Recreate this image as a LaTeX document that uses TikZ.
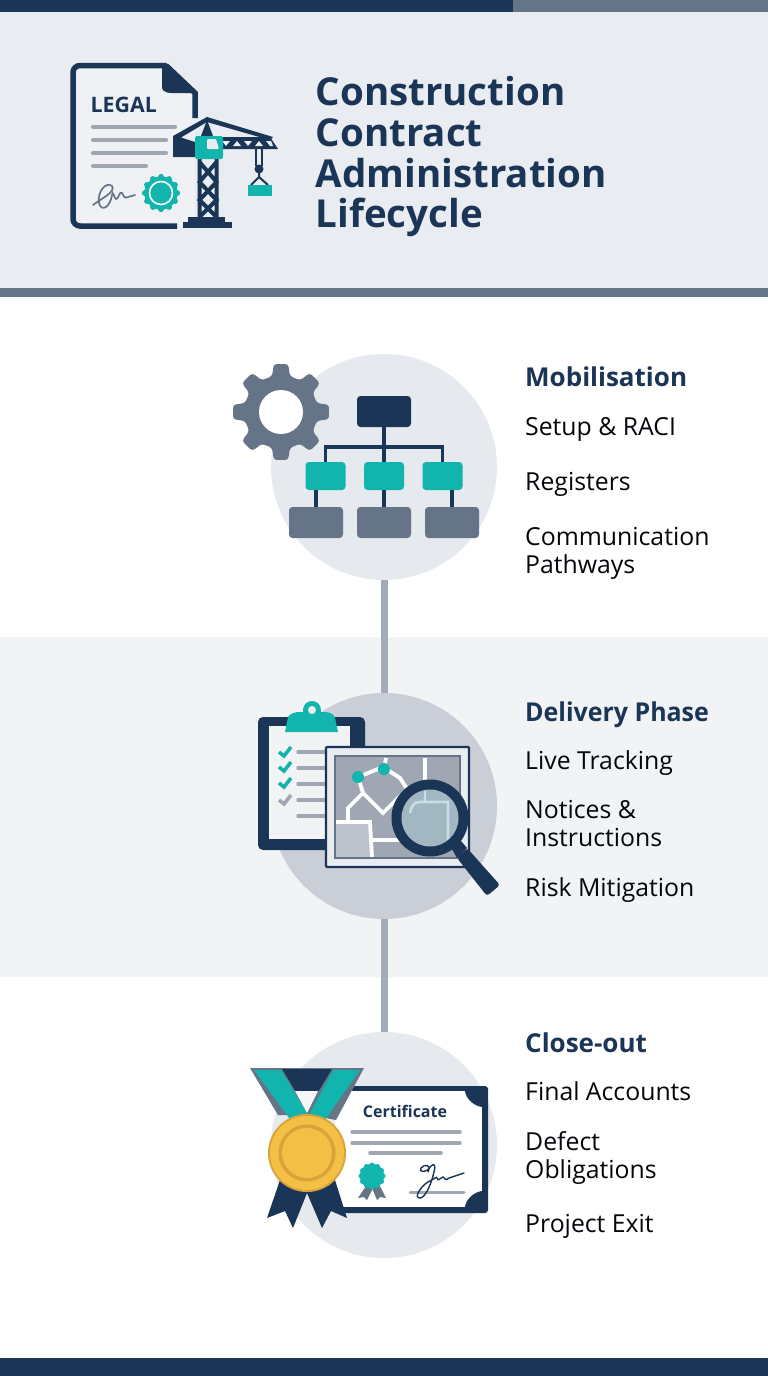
\documentclass[tikz,border=0pt]{standalone}
\usepackage{fontspec}
\setmainfont{Open Sans}
\definecolor{navy}{HTML}{1B3557}
\definecolor{slate}{HTML}{667488}
\definecolor{teal1}{HTML}{12B5AE}
\definecolor{hdr}{HTML}{E9ECF0}
\definecolor{band}{HTML}{F1F3F5}
\definecolor{conn}{HTML}{A3ABB8}
\definecolor{lgrey}{HTML}{A0A7B3}
\definecolor{gold}{HTML}{F3BF45}
\definecolor{goldd}{HTML}{D9A33A}
\definecolor{discl}{HTML}{E6E9ED}
\definecolor{discd}{HTML}{C9CED7}
\definecolor{lens}{HTML}{A3B7C2}
\definecolor{lensl}{HTML}{C8DDE6}
\definecolor{docf}{HTML}{EFF1F4}
\newcommand{\gearp}[7]{% cx cy rout rin n round colour
  \fill[#7,rounded corners=#6pt] \foreach \gi in {1,...,#5}{
    \ifnum\gi=1 ({#1+#3*cos(\gi*360/#5-360/#5*0.19)},{#2+#3*sin(\gi*360/#5-360/#5*0.19)})\else -- ({#1+#3*cos(\gi*360/#5-360/#5*0.19)},{#2+#3*sin(\gi*360/#5-360/#5*0.19)})\fi
    -- ({#1+#3*cos(\gi*360/#5+360/#5*0.19)},{#2+#3*sin(\gi*360/#5+360/#5*0.19)})
    -- ({#1+#4*cos(\gi*360/#5+360/#5*0.31)},{#2+#4*sin(\gi*360/#5+360/#5*0.31)})
    -- ({#1+#4*cos(\gi*360/#5+360/#5*0.69)},{#2+#4*sin(\gi*360/#5+360/#5*0.69)})
  } -- cycle;}
\tikzset{
  title/.style={anchor=base west,inner sep=0pt,font=\fontsize{38.5}{40}\selectfont\bfseries,text=navy},
  head/.style={anchor=base west,inner sep=0pt,font=\fontsize{26}{27}\selectfont\bfseries,text=navy},
  item/.style={anchor=base west,inner sep=0pt,font=\fontsize{24.8}{25}\selectfont,text=black!88!navy},
  disc/.style={circle,minimum size=226pt,inner sep=0pt,fill=#1},
  link/.style={draw=conn,line width=7pt},
  tbox/.style={rectangle,rounded corners=3.5pt,inner sep=0pt,fill=teal1,minimum width=40pt,minimum height=28pt},
  gbox/.style={rectangle,rounded corners=3.5pt,inner sep=0pt,fill=slate,minimum width=54pt,minimum height=31pt},
  nbox/.style={rectangle,rounded corners=3.5pt,inner sep=0pt,fill=navy,minimum width=54pt,minimum height=31pt},
  org/.style={draw=navy,line width=3.2pt},
  gline/.style={draw=lgrey,line width=4.3pt,line cap=round},
  road/.style={draw=white,line width=3.8pt},
}
\begin{document}
\begin{tikzpicture}[x=1pt,y=-1pt]
\useasboundingbox (0,0) rectangle (768,1376);
\fill[white] (0,0) rectangle (768,1376);
% bands
\fill[hdr] (0,12) rectangle (768,288);
\fill[navy] (0,0) rectangle (513,12);
\fill[slate] (513,0) rectangle (768,12);
\fill[slate] (0,288) rectangle (768,297);
\fill[band] (0,637) rectangle (768,977);
\fill[navy] (0,1358) rectangle (768,1376);
% discs and connectors
\node[disc=discl] (c1) at (384,467) {};
\node[disc=discd] (c2) at (384,806) {};
\node[disc=discl] (c3) at (384,1145) {};
\draw[link] (c1.south) -- (c2.north);
\draw[link] (c2.south) -- (c3.north);
% ---------- header icon
\fill[docf] (73,65) -- (166,65) -- (195,93) -- (195,226) -- (73,226) -- cycle;
\draw[navy,line width=5.5pt,rounded corners=7pt] (177,226) -- (73,226) -- (73,65.5) -- (166,65.5);
\draw[navy,line width=5.5pt] (166,65.5) -- (195,93) -- (195,118);
\fill[navy] (166,63) -- (197,93) -- (172,93) .. controls (164,93) and (161,90) .. (162,84) -- (162,64) -- cycle;
\node[anchor=base west,inner sep=0pt,font=\fontsize{21.3}{22}\selectfont\bfseries,text=navy] (legal) at (90.5,112) {LEGAL};
\draw[gline] (93,127) -- (175,127);
\draw[gline] (93,140) -- (166,140);
\draw[gline] (93,153) -- (166,153);
\draw[gline] (93,166) -- (146,166);
\draw[slate,line width=1.7pt,line cap=round] (93,205) .. controls (102,198) and (116,192) .. (112,186) .. controls (106,181) and (97,192) .. (99,203) .. controls (101,212) and (110,208) .. (112,195) .. controls (113,190) and (114,198) .. (116,199) .. controls (119,199) and (119,191) .. (122,193) .. controls (124,196) and (124,199) .. (128,197) -- (135,195);
\gearp{161}{193}{19}{16.5}{12}{1}{teal1}
\draw[white,line width=1.6pt] (161,193) circle (11.5pt);
% crane
\fill[navy] (207,117) -- (173,136) -- (173,157) -- (195,157) -- (195,142) -- (181,137.5) -- (207,122) -- (270,140) -- (273,137) -- cycle;
\fill[navy] (217,137) -- (270,137) -- (278,149) -- (217,149) -- cycle;
\fill[hdr] (222,141) -- (230,141) -- (226,146) -- cycle (233,146) -- (237,141) -- (241,146) -- cycle (244,141) -- (252,141) -- (248,146) -- cycle (255,146) -- (259,141) -- (263,146) -- cycle (266,141) -- (271,141) -- (273,146) -- (270,146) -- cycle;
\draw[navy,line width=4pt] (199.5,159) -- (199.5,217) (216.5,159) -- (216.5,217) (199.5,162) -- (216.5,182) -- (199.5,200) -- (216.5,217) (216.5,162) -- (199.5,182) -- (216.5,200) -- (199.5,217);
\fill[navy] (201,136) -- (207,120) -- (213,136) -- cycle;
\fill[navy] (188,217) rectangle (225,222);
\fill[navy] (183,222) rectangle (232,228);
\fill[teal1,rounded corners=2pt] (195,136) rectangle (223,159);
\fill[hdr,rounded corners=1pt] (207,139) -- (216,139) -- (219,149) -- (207,149) -- cycle;
\draw[navy,line width=2pt] (256,149) -- (256,166) (262,149) -- (262,166);
\fill[navy] (259,169) circle (4.5pt);
\draw[navy,line width=2pt] (259,173) -- (259,177) (251,185) -- (259,177) -- (268,185);
\fill[teal1] (248,185) rectangle (272,196);
% ---------- section 1 icon
\gearp{281}{412}{48.5}{37}{8}{3}{slate}
\fill[white] (281,412) circle (22pt);
\node[nbox] (top) at (384,411.5) {};
\node[tbox] (t1) at (325.5,476) {};
\node[tbox] (t2) at (384,476) {};
\node[tbox] (t3) at (442.5,476) {};
\node[gbox] (g1) at (316,522.5) {};
\node[gbox] (g2) at (384,522.5) {};
\node[gbox] (g3) at (452,522.5) {};
\coordinate (busm) at (384,447);
\draw[org] (top.south) -- (t2.north);
\draw[org] (t1.north) |- (busm) -| (t3.north);
\draw[org] (t1.south -| g1.north) -- (g1.north);
\draw[org] (t2.south) -- (g2.north);
\draw[org] (t3.south -| g3.north) -- (g3.north);
% ---------- section 2 icon
\fill[navy,rounded corners=5pt] (258,717) rectangle (365,850);
\fill[band] (269,726) rectangle (350,839);
\fill[teal1] (285,732) -- (288,717) .. controls (290,713) and (296,712) .. (300,712) -- (324,712) .. controls (330,712) and (334,714) .. (335,718) -- (338,732) -- cycle;
\fill[teal1] (312,710) circle (9pt);
\fill[band] (312,710) circle (4pt);
\foreach \yy/\cc in {752/teal1,767/teal1,783/teal1,800/lgrey}{
  \draw[\cc,line width=3.6pt] (279,\yy) -- (284,\yy+4) -- (291,\yy-5);}
\foreach \yy in {752,768,784,800,816}{
  \draw[draw=lgrey,line width=3.5pt,line cap=round] (298,\yy) -- (330,\yy);}
\fill[hdr] (325,746) rectangle (469,868);
\draw[navy,line width=2.4pt,rounded corners=1pt] (326,747) rectangle (469,867);
\fill[lgrey] (335,756) rectangle (460,858);
\draw[slate,line width=1.5pt] (335,756) rectangle (460,858);
\begin{scope}
\clip (336,757) rectangle (459,857);
\fill[lgrey!70!white] (336,822) rectangle (371,857);
\draw[road] (336,822) -- (370,822) -- (372,857);
\draw[road] (371,840) -- (400,840);
\draw[road] (348,822) -- (348,808) -- (363,793) -- (383,813) -- (407,789);
\draw[road] (358,777) -- (383,767) -- (400,778) -- (407,789);
\draw[road] (363,793) -- (358,777);
\draw[road] (384,769) -- (386,758);
\draw[road] (425,758) -- (425,795);
\end{scope}
\fill[teal1] (358,777) circle (6pt);
\fill[teal1] (384,769) circle (6pt);
\fill[navy] (448,842) -- (456,835) -- (467,848) -- (457,858) -- cycle;
\fill[navy,rounded corners=3pt] (457,858) -- (467,848) -- (500,885) -- (487,896) -- cycle;
\fill[navy] (430,818) circle (38.5pt);
\fill[lens] (430,818) circle (28.5pt);
\begin{scope}
\clip (430,818) circle (28pt);
\draw[lensl,line width=2.6pt] (410,813) .. controls (411,806) and (414,802) .. (420,802) -- (448,802) -- (448,840);
\draw[lensl,line width=2.6pt] (425,790) -- (425,802);
\end{scope}
% ---------- section 3 icon
\fill[navy,rounded corners=3pt] (335,1086) rectangle (488,1213);
\fill[white] (335,1091) rectangle (482,1207);
\fill[navy] (465,1091) .. controls (466,1099) and (474,1106) .. (482,1107) -- (482,1091) -- cycle;
\fill[navy] (465,1207) .. controls (466,1199) and (474,1192) .. (482,1191) -- (482,1207) -- cycle;
\node[inner sep=0pt,font=\fontsize{16}{16.5}\selectfont\bfseries,text=navy] (cert) at (405,1111) {Certificate};
\draw[draw=lgrey,line width=3.5pt,line cap=round] (352,1132) -- (460,1132);
\draw[draw=lgrey,line width=3.5pt,line cap=round] (352,1143) -- (460,1143);
\draw[draw=lgrey,line width=3.5pt,line cap=round] (370,1153) -- (441,1153);
\draw[draw=lgrey,line width=3pt,line cap=round] (410,1192) -- (464,1192);
\fill[slate] (366,1186) -- (358,1198) -- (364,1197) -- (367,1200) -- (373,1188) -- cycle;
\fill[slate] (372,1188) -- (377,1200) -- (380,1197) -- (386,1198) -- (380,1186) -- cycle;
\gearp{372}{1176}{13.5}{12}{12}{1}{teal1}
\draw[navy,line width=1.4pt,line cap=round] (428,1172) .. controls (432,1164) and (424,1164) .. (421,1168) .. controls (418,1172) and (426,1174) .. (431,1166) .. controls (434,1163) and (436,1165) .. (434,1172) .. controls (431,1185) and (425,1198) .. (420,1198) .. controls (413,1198) and (421,1186) .. (428,1182) .. controls (434,1179) and (437,1176) .. (437,1178) .. controls (438,1182) and (440,1178) .. (443,1177) .. controls (445,1179) and (446,1181) .. (449,1178) -- (464,1173);
% medal
\fill[navy] (280,1180) -- (267,1218) -- (285,1211) -- (293,1228) -- (307,1193) -- (322,1228) -- (331,1211) -- (347,1218) -- (335,1180) -- cycle;
\fill[slate] (250,1068) -- (364,1068) -- (336,1120) -- (310,1115) -- (278,1115) -- cycle;
\fill[navy] (282,1069) -- (332,1069) -- (318,1092) -- (296,1092) -- cycle;
\fill[hdr!50!white] (295,1091) -- (318,1091) -- (307,1113) -- cycle;
\fill[teal1] (254,1070) -- (281,1070) -- (308,1115) -- (292,1122) -- cycle;
\fill[teal1] (333,1070) -- (360,1070) -- (322,1124) -- (309,1115) -- cycle;
\fill[goldd] (307,1153) circle (39pt);
\fill[gold] (307,1153) circle (37pt);
\fill[goldd] (307,1153) circle (28.5pt);
\fill[gold] (307,1153) circle (25pt);
% ---------- titles and texts
\node[title] (t-a) at (315.5,105) {Construction};
\node[title] (t-b) at (315.5,146) {Contract};
\node[title] (t-c) at (315.5,187) {Administration};
\node[title] (t-d) at (315.5,227) {Lifecycle};
\node[head] (h1) at (525,386) {Mobilisation};
\node[item] (i11) at (525,435) {Setup \& RACI};
\node[item] (i12) at (525,490) {Registers};
\node[item] (i13) at (525,545) {Communication};
\node[item] (i14) at (525,573) {Pathways};
\node[head,transform shape,xscale=0.96] (h2) at (525,721) {Delivery Phase};
\node[item] (i21) at (525,769) {Live Tracking};
\node[item] (i22) at (525,818) {Notices \&};
\node[item] (i23) at (525,846) {Instructions};
\node[item] (i24) at (525,896) {Risk Mitigation};
\node[head] (h3) at (525,1052) {Close-out};
\node[item] (i31) at (525,1100) {Final Accounts};
\node[item] (i32) at (525,1150) {Defect};
\node[item] (i33) at (525,1178) {Obligations};
\node[item] (i34) at (525,1232) {Project Exit};
\end{tikzpicture}
\end{document}
